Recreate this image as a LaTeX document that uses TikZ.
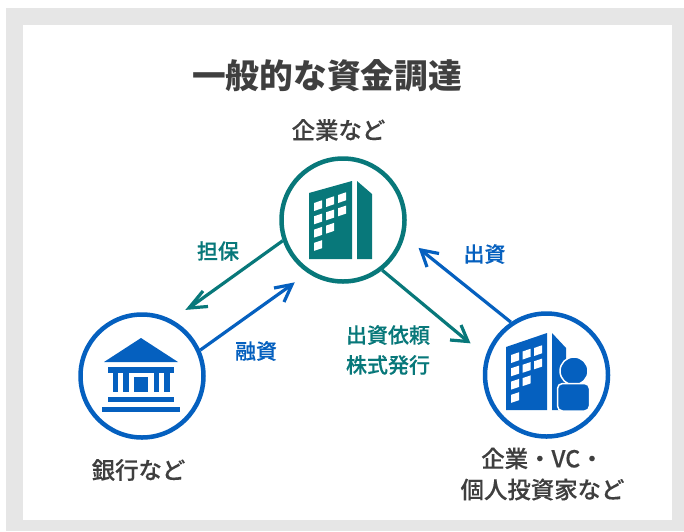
\documentclass[tikz,border=0pt]{standalone}
\usepackage{fontspec}
\setmainfont{Noto Sans CJK JP}
\newfontfamily\med[FakeBold=0.25]{Noto Sans CJK JP Medium}
\definecolor{teal}{HTML}{08787A}
\definecolor{blu}{HTML}{0560BF}
\definecolor{txt}{HTML}{3F3F3F}
\definecolor{bg}{HTML}{E6E6E6}
\tikzset{
 ring/.style={circle,draw,line width=4.5pt,fill=white,minimum size=123pt,inner sep=0pt},
 conn/.style={line width=3.2pt},
 tip/.style={line width=3.2pt,line cap=butt,miter limit=10},
 lab/.style={font=\med\fontsize{23.4}{31}\selectfont,text=txt,align=center},
 clab/.style={font=\med\fontsize{21}{30}\selectfont,align=center}
}
\begin{document}
\begin{tikzpicture}[x=1pt,y=-1pt]
\useasboundingbox (0,0) rectangle (684,531);
\fill[white] (0,0) rectangle (684,531);
\fill[bg] (6,8) rectangle (684,531);
\fill[white] (23,25) rectangle (672,520);
\node[font=\fontsize{33.7}{36}\selectfont\bfseries,text=txt] (title) at (327,76) {一般的な資金調達};
\node[lab] (a) at (338.5,130) {企業など};
\node[ring,draw=teal] (c1) at (343,220) {};
\node[ring,draw=blu] (c2) at (142,376) {};
\node[ring,draw=blu] (c3) at (546.5,375) {};
\node[lab] (b) at (138.5,470) {銀行など};
\node[lab] (d) at (542.5,474) {企業・VC・\\個人投資家など};
% arrows
\coordinate (t1) at (189,308);
\coordinate (t2) at (292,284.5);
\coordinate (t3) at (421,250);
\coordinate (t4) at (468,341.5);
\draw[conn,teal] (c1.199.8) -- (t1);
\draw[tip,teal] (203,291) -- (t1) -- (208,306.5);
\draw[conn,blu] (c2.24) -- (t2);
\draw[tip,blu] (274,288) -- (t2) -- (284,302);
\draw[conn,blu] (c3.124.6) -- (t3);
\draw[tip,blu] (439,253.5) -- (t3) -- (427,267);
\draw[conn,teal] (c1.-52) -- (t4);
\draw[tip,teal] (461,325) -- (t4) -- (450,340);
% labels
\node[clab,text=teal] (l1) at (218,251) {担保};
\node[clab,text=blu] (l2) at (256,351) {融資};
\node[clab,text=blu] (l3) at (484.5,254) {出資};
\node[clab,text=teal] (l4) at (388,350) {出資依頼\\株式発行};
% building 1
\fill[teal] (309,193) -- (352,181) -- (352,259) -- (309,259) -- cycle;
\fill[teal] (357,181) -- (372,194) -- (372,259) -- (357,259) -- cycle;
\foreach \x/\y in {0/0,1/0,2/0,0/1,1/1,2/1,0/2,1/2,0/3}{
  \pgfmathsetmacro{\wx}{314+\x*12}
  \pgfmathsetmacro{\wy}{203-\x*4+\y*13.3}
  \fill[white] (\wx,\wy) -- (\wx+8,\wy-2.7) -- (\wx+8,\wy+5.3) -- (\wx,\wy+8) -- cycle;
}
% bank
\fill[blu] (104,362) -- (141,338) -- (178,362) -- cycle;
\fill[blu] (108,367) rectangle (174,373);
\fill[blu] (113,373) rectangle (118,392);
\fill[blu] (123,373) rectangle (129,392);
\fill[blu] (134,377) rectangle (148,392);
\fill[blu] (154,373) rectangle (159,392);
\fill[blu] (164,373) rectangle (170,392);
\fill[blu] (108,397) rectangle (174,402);
\fill[blu] (102,407) rectangle (180,412);
% building 2
\fill[blu] (506,347) -- (547,333) -- (547,410) -- (506,410) -- cycle;
\fill[blu] (552,333) -- (566,348) -- (566,410) -- (552,410) -- cycle;
\foreach \x/\y in {0/0,1/0,2/0,0/1,1/1,2/1,0/2,1/2,0/3}{
  \pgfmathsetmacro{\wx}{511+\x*11.5}
  \pgfmathsetmacro{\wy}{355-\x*3.5+\y*13.3}
  \fill[white] (\wx,\wy) -- (\wx+8,\wy-2.7) -- (\wx+8,\wy+5.3) -- (\wx,\wy+8) -- cycle;
}
\fill[blu,draw=white,line width=1.5pt] (574,371) circle (14);
\fill[blu,draw=white,line width=1.5pt,rounded corners=5pt] (557.5,383.5) rectangle (589.5,411);
\end{tikzpicture}
\end{document}
